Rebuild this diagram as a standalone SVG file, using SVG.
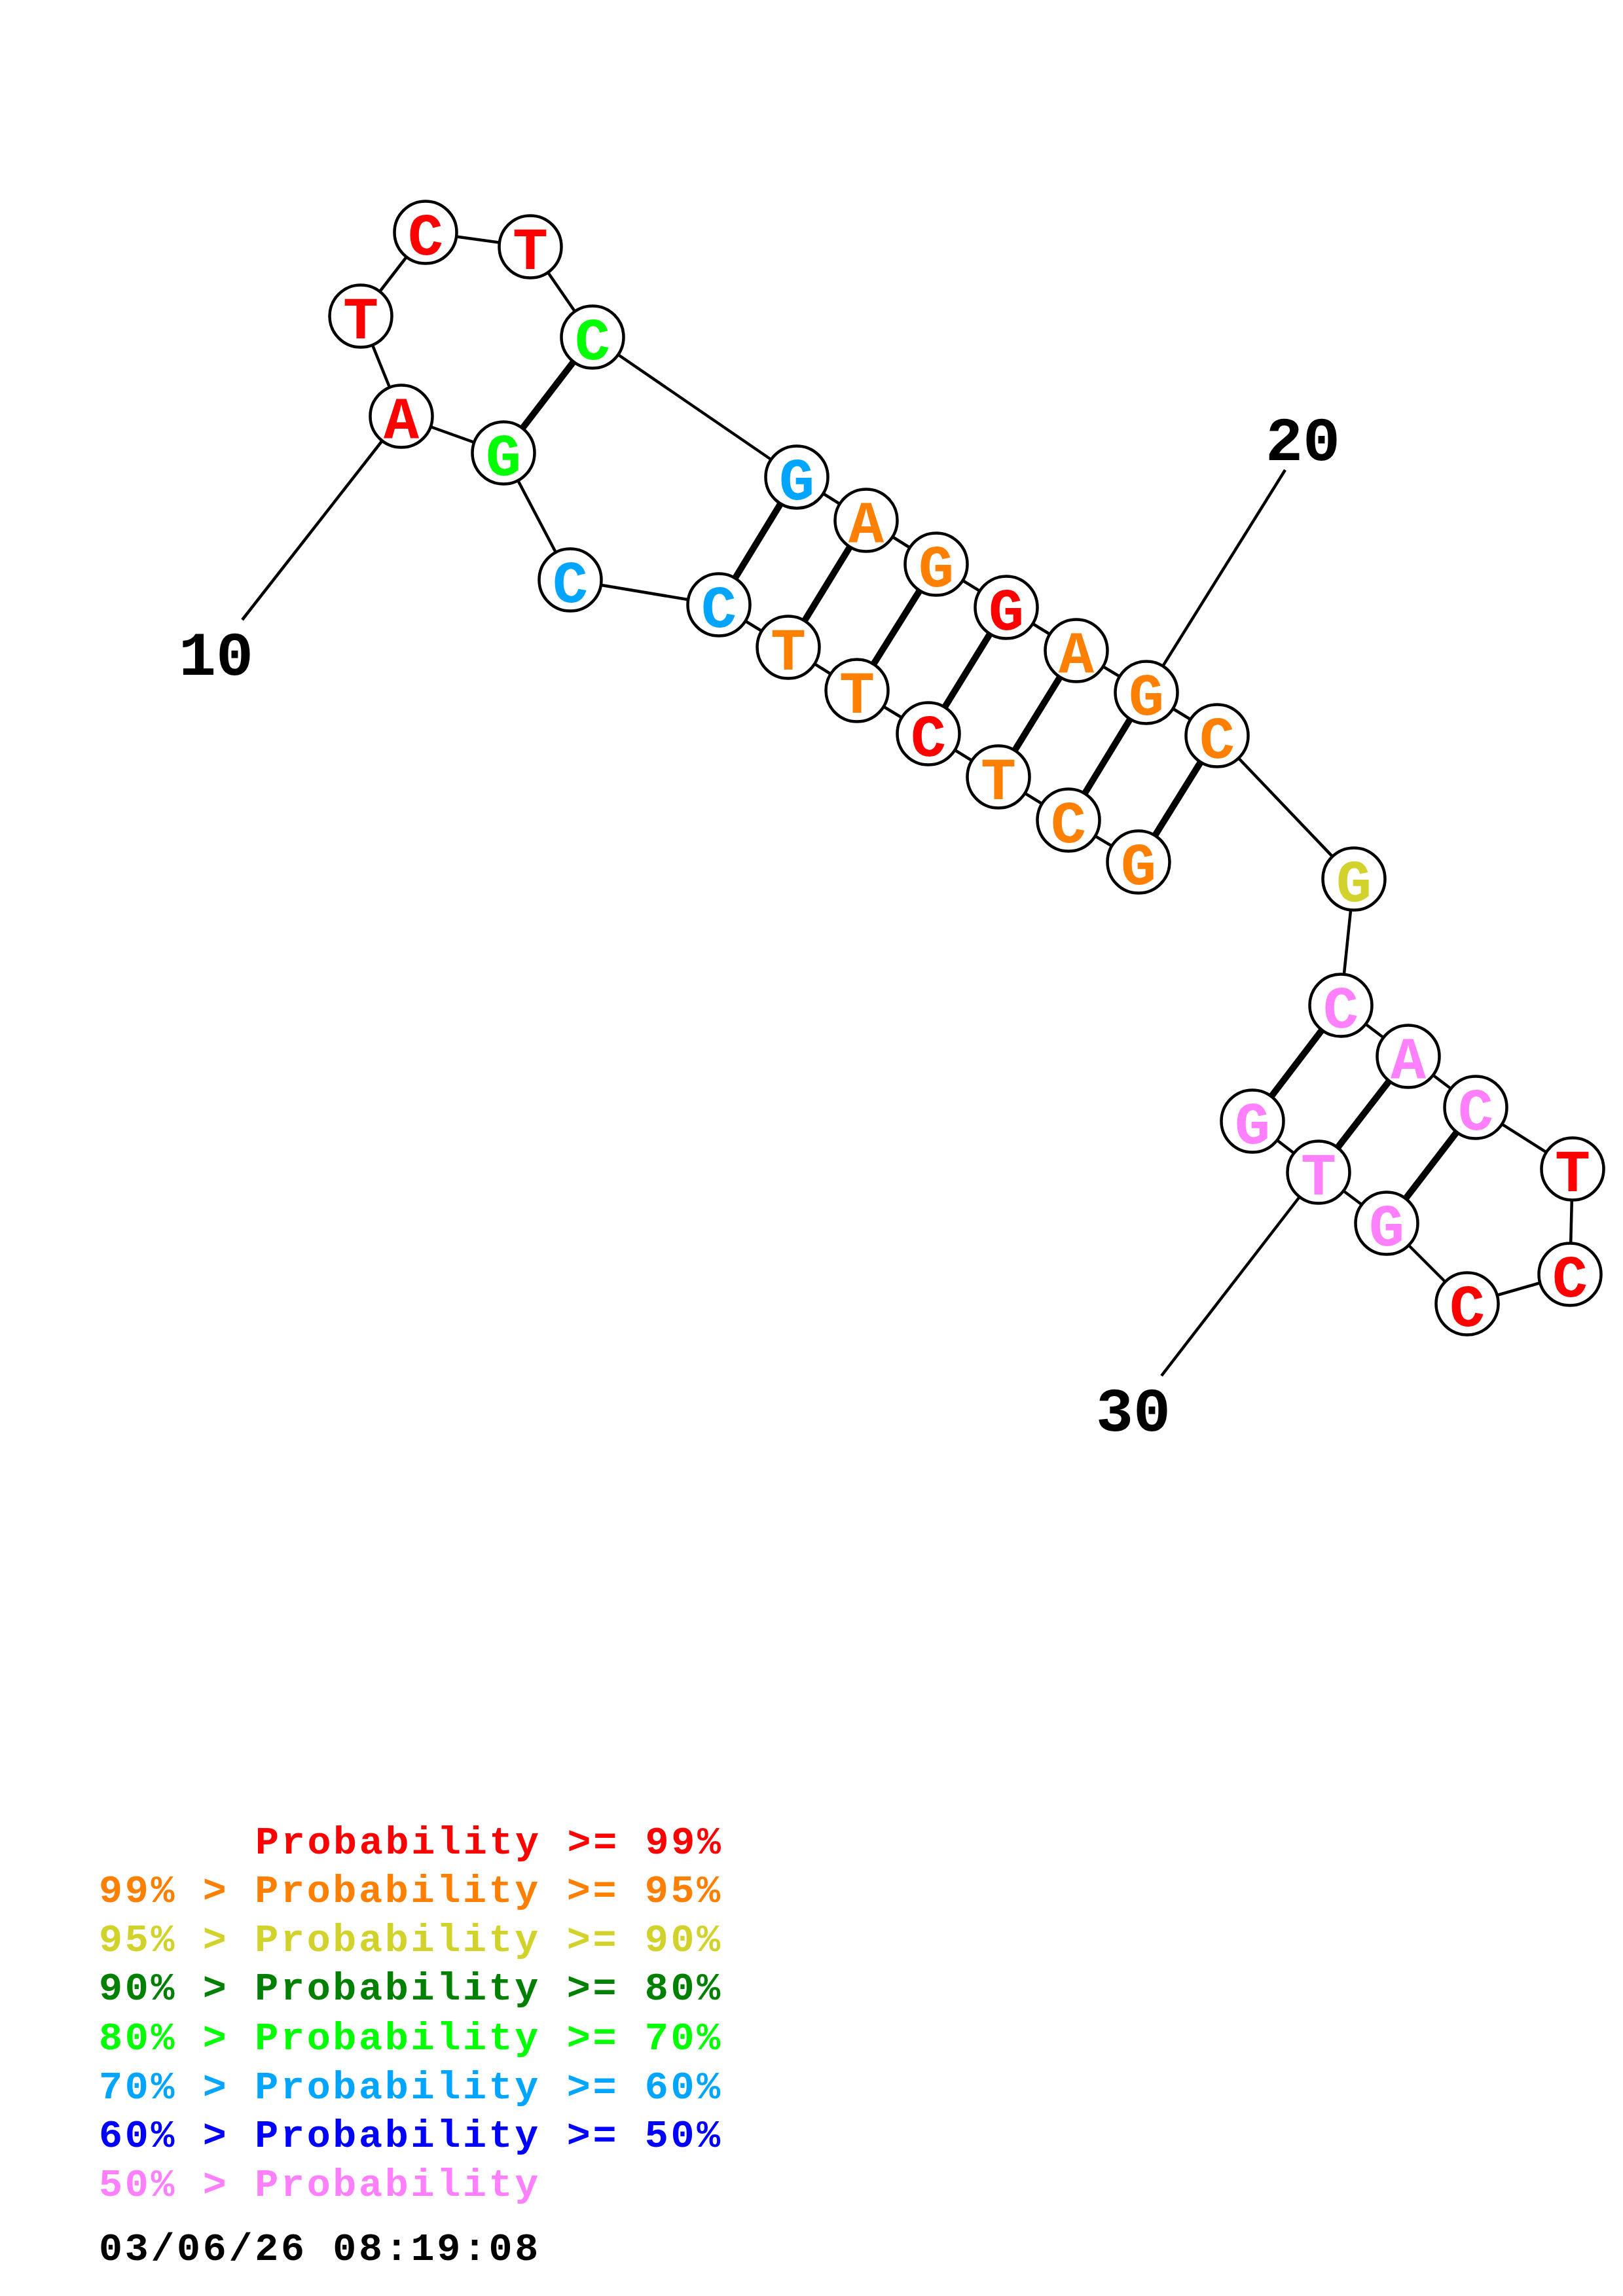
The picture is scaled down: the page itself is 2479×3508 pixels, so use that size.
<svg xmlns="http://www.w3.org/2000/svg" width="2479" height="3508" viewBox="0 0 2479 3508">
<style>
.bb{stroke:#000;stroke-width:4.5;stroke-linecap:butt}
.pr{stroke:#000;stroke-width:10}
.ld{stroke:#000;stroke-width:4.5}
.nd circle{fill:#fff;stroke:#000;stroke-width:4.5}
.nd text{font-family:"Liberation Mono",monospace;font-weight:bold;font-size:90px;text-anchor:middle}
.num{font-family:"Liberation Mono",monospace;font-weight:bold;font-size:95px;text-anchor:middle;fill:#000}
.lg{font-family:"Liberation Mono",monospace;font-weight:bold;font-size:60px;letter-spacing:3.7px}
.red{fill:#FF0000}.org{fill:#FF8000}.yel{fill:#D2D22D}.dgr{fill:#008000}.grn{fill:#00FF00}.sky{fill:#00A5FF}.blu{fill:#0000FF}.pnk{fill:#FF80FF}
</style>
<rect width="2479" height="3508" fill="#fff"/>
<g id="connectors">
<line class="ld" x1="613" y1="636" x2="370" y2="947"/>
<line class="ld" x1="1751" y1="1058" x2="1963" y2="718"/>
<line class="ld" x1="2014" y1="1791" x2="1774" y2="2102"/>
<line class="bb" x1="1739" y1="1317" x2="1632" y2="1253"/>
<line class="bb" x1="1632" y1="1253" x2="1525" y2="1187"/>
<line class="bb" x1="1525" y1="1187" x2="1418" y2="1121"/>
<line class="bb" x1="1418" y1="1121" x2="1309" y2="1055"/>
<line class="bb" x1="1309" y1="1055" x2="1204" y2="989"/>
<line class="bb" x1="1204" y1="989" x2="1098" y2="924"/>
<line class="bb" x1="1098" y1="924" x2="871" y2="886"/>
<line class="bb" x1="871" y1="886" x2="769" y2="692"/>
<line class="bb" x1="769" y1="692" x2="613" y2="636"/>
<line class="bb" x1="613" y1="636" x2="551" y2="483"/>
<line class="bb" x1="551" y1="483" x2="650" y2="355"/>
<line class="bb" x1="650" y1="355" x2="810" y2="377"/>
<line class="bb" x1="810" y1="377" x2="905" y2="515"/>
<line class="bb" x1="905" y1="515" x2="1217" y2="729"/>
<line class="bb" x1="1217" y1="729" x2="1323" y2="795"/>
<line class="bb" x1="1323" y1="795" x2="1430" y2="862"/>
<line class="bb" x1="1430" y1="862" x2="1537" y2="928"/>
<line class="bb" x1="1537" y1="928" x2="1644" y2="994"/>
<line class="bb" x1="1644" y1="994" x2="1751" y2="1058"/>
<line class="bb" x1="1751" y1="1058" x2="1859" y2="1124"/>
<line class="bb" x1="1859" y1="1124" x2="2068" y2="1343"/>
<line class="bb" x1="2068" y1="1343" x2="2048" y2="1536"/>
<line class="bb" x1="2048" y1="1536" x2="2151" y2="1614"/>
<line class="bb" x1="2151" y1="1614" x2="2254" y2="1692"/>
<line class="bb" x1="2254" y1="1692" x2="2402" y2="1786"/>
<line class="bb" x1="2402" y1="1786" x2="2398" y2="1947"/>
<line class="bb" x1="2398" y1="1947" x2="2241" y2="1992"/>
<line class="bb" x1="2241" y1="1992" x2="2118" y2="1869"/>
<line class="bb" x1="2118" y1="1869" x2="2014" y2="1791"/>
<line class="bb" x1="2014" y1="1791" x2="1913" y2="1713"/>
<line class="pr" x1="769" y1="692" x2="905" y2="515"/>
<line class="pr" x1="1098" y1="924" x2="1217" y2="729"/>
<line class="pr" x1="1204" y1="989" x2="1323" y2="795"/>
<line class="pr" x1="1309" y1="1055" x2="1430" y2="862"/>
<line class="pr" x1="1418" y1="1121" x2="1537" y2="928"/>
<line class="pr" x1="1525" y1="1187" x2="1644" y2="994"/>
<line class="pr" x1="1632" y1="1253" x2="1751" y2="1058"/>
<line class="pr" x1="1739" y1="1317" x2="1859" y2="1124"/>
<line class="pr" x1="2048" y1="1536" x2="1913" y2="1713"/>
<line class="pr" x1="2151" y1="1614" x2="2014" y2="1791"/>
<line class="pr" x1="2254" y1="1692" x2="2118" y2="1869"/>
</g>
<g id="n1" class="nd"><circle cx="1739" cy="1317" r="47.5"/><text x="1739" y="1351" class="org">G</text></g>
<g id="n2" class="nd"><circle cx="1632" cy="1253" r="47.5"/><text x="1632" y="1287" class="org">C</text></g>
<g id="n3" class="nd"><circle cx="1525" cy="1187" r="47.5"/><text x="1525" y="1221" class="org">T</text></g>
<g id="n4" class="nd"><circle cx="1418" cy="1121" r="47.5"/><text x="1418" y="1155" class="red">C</text></g>
<g id="n5" class="nd"><circle cx="1309" cy="1055" r="47.5"/><text x="1309" y="1089" class="org">T</text></g>
<g id="n6" class="nd"><circle cx="1204" cy="989" r="47.5"/><text x="1204" y="1023" class="org">T</text></g>
<g id="n7" class="nd"><circle cx="1098" cy="924" r="47.5"/><text x="1098" y="958" class="sky">C</text></g>
<g id="n8" class="nd"><circle cx="871" cy="886" r="47.5"/><text x="871" y="920" class="sky">C</text></g>
<g id="n9" class="nd"><circle cx="769" cy="692" r="47.5"/><text x="769" y="726" class="grn">G</text></g>
<g id="n10" class="nd"><circle cx="613" cy="636" r="47.5"/><text x="613" y="670" class="red">A</text></g>
<g id="n11" class="nd"><circle cx="551" cy="483" r="47.5"/><text x="551" y="517" class="red">T</text></g>
<g id="n12" class="nd"><circle cx="650" cy="355" r="47.5"/><text x="650" y="389" class="red">C</text></g>
<g id="n13" class="nd"><circle cx="810" cy="377" r="47.5"/><text x="810" y="411" class="red">T</text></g>
<g id="n14" class="nd"><circle cx="905" cy="515" r="47.5"/><text x="905" y="549" class="grn">C</text></g>
<g id="n15" class="nd"><circle cx="1217" cy="729" r="47.5"/><text x="1217" y="763" class="sky">G</text></g>
<g id="n16" class="nd"><circle cx="1323" cy="795" r="47.5"/><text x="1323" y="829" class="org">A</text></g>
<g id="n17" class="nd"><circle cx="1430" cy="862" r="47.5"/><text x="1430" y="896" class="org">G</text></g>
<g id="n18" class="nd"><circle cx="1537" cy="928" r="47.5"/><text x="1537" y="962" class="red">G</text></g>
<g id="n19" class="nd"><circle cx="1644" cy="994" r="47.5"/><text x="1644" y="1028" class="org">A</text></g>
<g id="n20" class="nd"><circle cx="1751" cy="1058" r="47.5"/><text x="1751" y="1092" class="org">G</text></g>
<g id="n21" class="nd"><circle cx="1859" cy="1124" r="47.5"/><text x="1859" y="1158" class="org">C</text></g>
<g id="n22" class="nd"><circle cx="2068" cy="1343" r="47.5"/><text x="2068" y="1377" class="yel">G</text></g>
<g id="n23" class="nd"><circle cx="2048" cy="1536" r="47.5"/><text x="2048" y="1570" class="pnk">C</text></g>
<g id="n24" class="nd"><circle cx="2151" cy="1614" r="47.5"/><text x="2151" y="1648" class="pnk">A</text></g>
<g id="n25" class="nd"><circle cx="2254" cy="1692" r="47.5"/><text x="2254" y="1726" class="pnk">C</text></g>
<g id="n26" class="nd"><circle cx="2402" cy="1786" r="47.5"/><text x="2402" y="1820" class="red">T</text></g>
<g id="n27" class="nd"><circle cx="2398" cy="1947" r="47.5"/><text x="2398" y="1981" class="red">C</text></g>
<g id="n28" class="nd"><circle cx="2241" cy="1992" r="47.5"/><text x="2241" y="2026" class="red">C</text></g>
<g id="n29" class="nd"><circle cx="2118" cy="1869" r="47.5"/><text x="2118" y="1903" class="pnk">G</text></g>
<g id="n30" class="nd"><circle cx="2014" cy="1791" r="47.5"/><text x="2014" y="1825" class="pnk">T</text></g>
<g id="n31" class="nd"><circle cx="1913" cy="1713" r="47.5"/><text x="1913" y="1747" class="pnk">G</text></g>
<g id="labels">
<text class="num" x="330" y="1031">10</text>
<text class="num" x="1990" y="703">20</text>
<text class="num" x="1731" y="2186">30</text>
</g>
<g id="legend" class="lg">
<text x="390" y="2832" class="red">Probability &gt;= 99%</text>
<text x="151" y="2906" class="org">99% &gt; Probability &gt;= 95%</text>
<text x="151" y="2981" class="yel">95% &gt; Probability &gt;= 90%</text>
<text x="151" y="3055" class="dgr">90% &gt; Probability &gt;= 80%</text>
<text x="151" y="3131" class="grn">80% &gt; Probability &gt;= 70%</text>
<text x="151" y="3206" class="sky">70% &gt; Probability &gt;= 60%</text>
<text x="151" y="3280" class="blu">60% &gt; Probability &gt;= 50%</text>
<text x="151" y="3355" class="pnk">50% &gt; Probability</text>
<text x="151" y="3453" fill="#000">03/06/26 08:19:08</text>
</g>
</svg>
